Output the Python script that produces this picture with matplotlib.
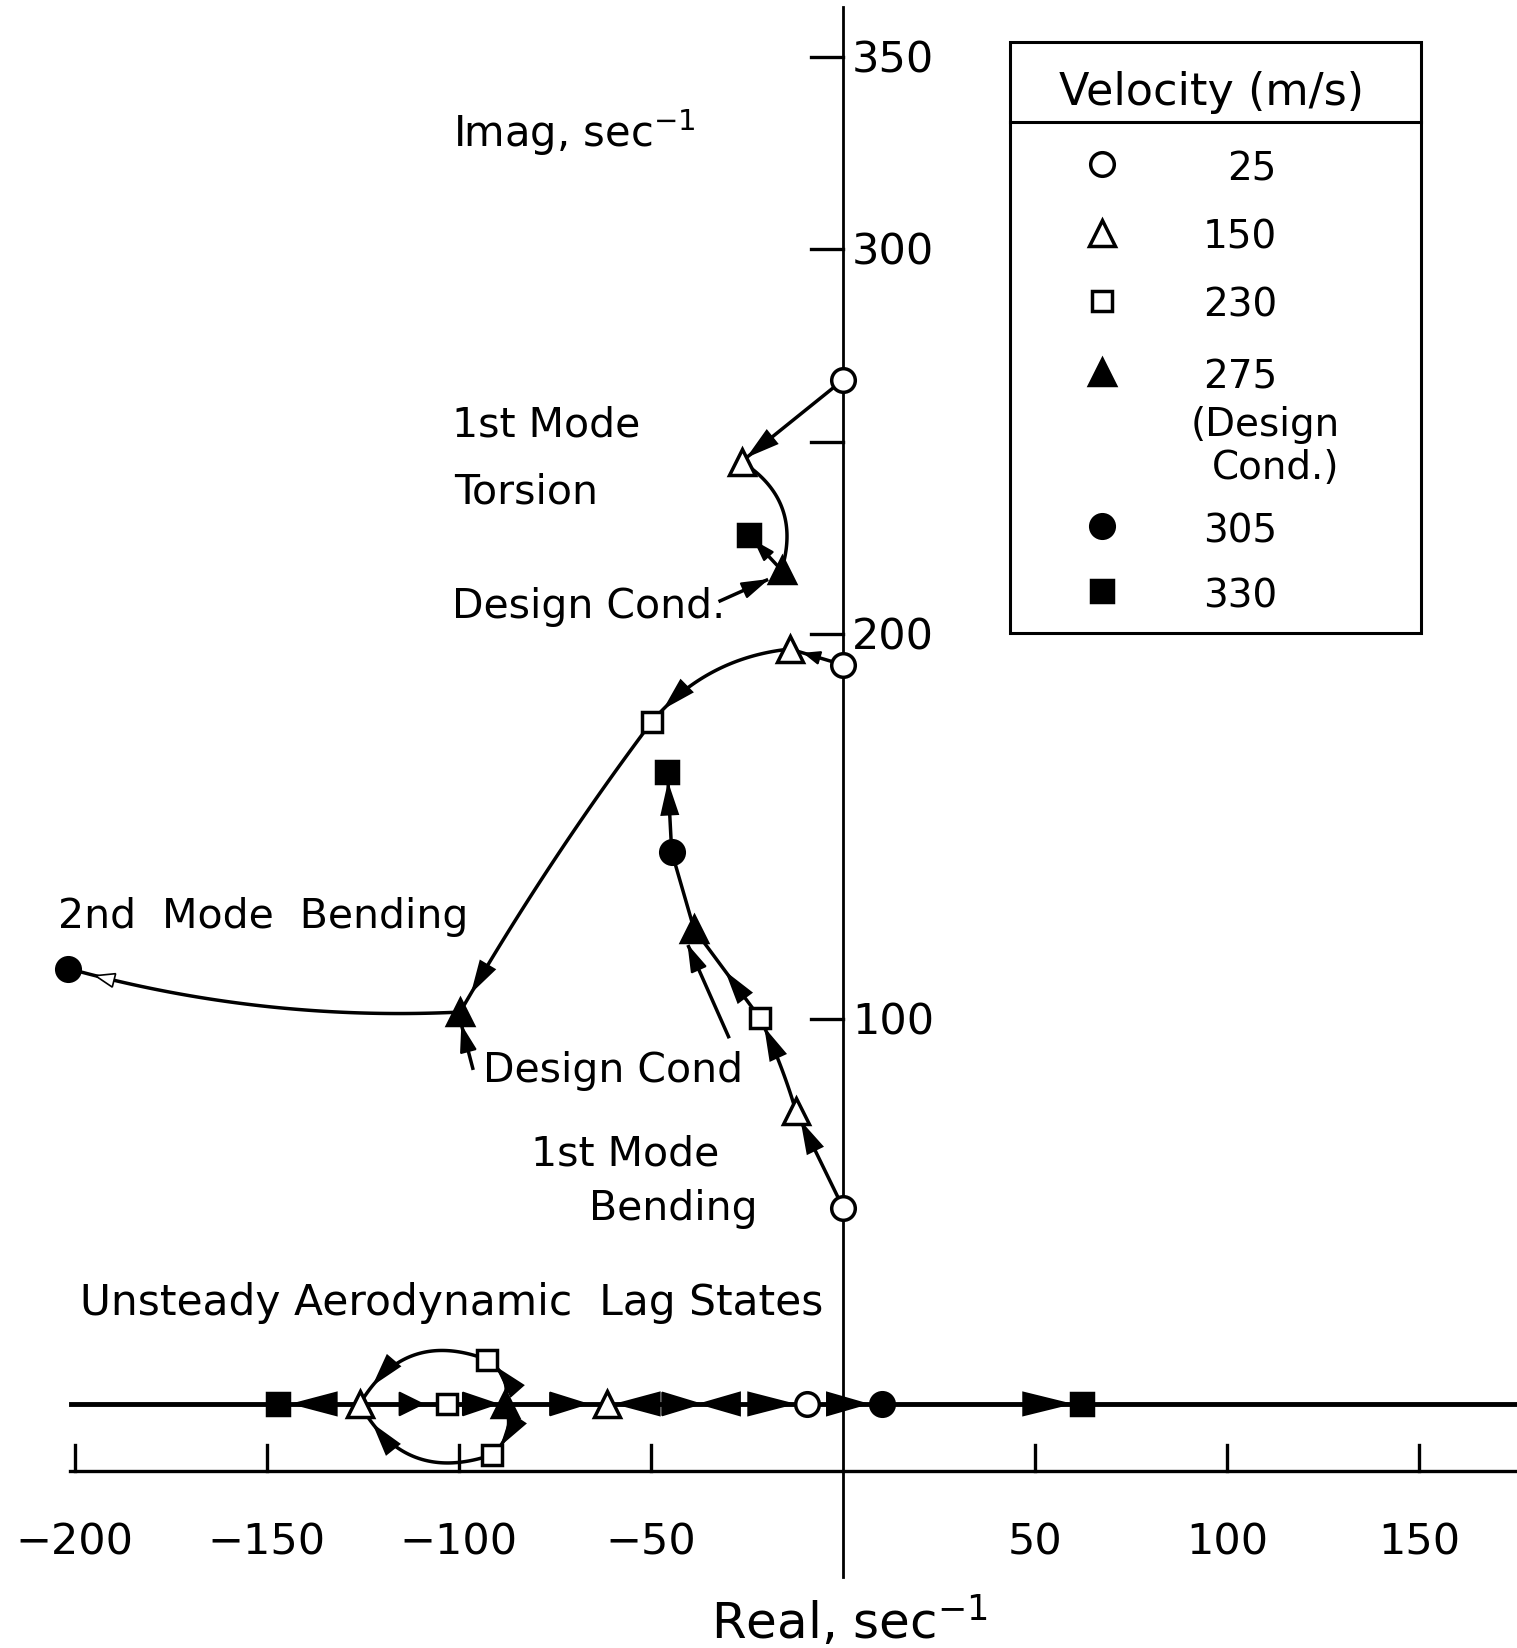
import numpy as np
import matplotlib
matplotlib.use("Agg")
import matplotlib.pyplot as plt
from matplotlib.patches import Polygon, Rectangle

# root locus points, real / imag in sec^-1, tagged with airspeed (m/s)
torsion_re = [0.0, -26.4, -16.0, -24.5]
torsion_im = [266.0, 244.8, 216.6, 225.7]
torsion_v = [25, 150, 275, 330]

bend2_re = [0.0, -13.8, -49.8, -99.7, -201.7]
bend2_im = [192.0, 196.1, 177.2, 101.8, 113.1]
bend2_v = [25, 150, 230, 275, 305]

bend1_re = [0.0, -12.3, -21.6, -38.8, -44.6, -45.7]
bend1_im = [51.0, 76.2, 100.2, 123.4, 143.4, 164.2]
bend1_v = [25, 150, 230, 275, 305, 330]

lag_re = [-147.0, -125.8, -103.2, -92.7, -91.4, -88.0, -61.5, -9.5, 10.1, 62.2]
lag_im = [0.0, 0.0, 0.0, 11.5, -13.2, 0.0, 0.0, 0.0, 0.0, 0.0]
lag_v = [330, 150, 230, 230, 230, 275, 150, 25, 305, 330]

# arrowheads sitting on the real axis (tip, tail)
lag_tip = [-143.2, -109.4, -90.1, -66.7, -58.9, -37.2, -37.2, -13.0, 6.2, 59.1]
lag_tail = [-131.8, -115.5, -99.0, -76.3, -47.7, -47.1, -26.8, -24.7, -4.2, 46.9]

# links between points: (from, to, arc bend, arrowhead position along curve)
torsion_links = [(0, 1, 0.0, 0.93), (1, 2, -0.38, None), (2, 3, 0.0, 0.8)]
bend2_links = [(0, 1, 0.0, 0.72), (1, 2, 0.2, 0.88), (2, 3, 0.03, 0.93), (3, 4, -0.08, 0.93)]
bend1_links = [(0, 1, 0.0, 0.87), (1, 2, 0.04, 0.87), (2, 3, 0.0, 0.5), (3, 4, 0.0, None), (4, 5, 0.0, 0.84)]
lag_links = [(3, 1, 0.42, 0.85), (4, 1, -0.42, 0.85), (5, 3, 0.35, 0.75), (5, 4, -0.35, 0.75)]

velocities = [25, 150, 230, 275, 305, 330]
legend_text = ["25", "150", "230", "275", "305", "330"]

xticks = [-200, -150, -100, -50, 50, 100, 150]
yticks = [350, 300, 250, 200, 100]
ylabels = [350, 300, 200, 100]

STYLE = {
    25: dict(marker="o", mfc="white", ms=17),
    150: dict(marker="^", mfc="white", ms=19),
    230: dict(marker="s", mfc="white", ms=14),
    275: dict(marker="^", mfc="black", ms=19),
    305: dict(marker="o", mfc="black", ms=17),
    330: dict(marker="s", mfc="black", ms=15.5),
}

LW = 2.5
FT = 29.5

fig = plt.figure(figsize=(15.17, 16.48), dpi=100)
ax = fig.add_axes([0, 0, 1, 1])
ax.set_xlim(-219.5, 175.5)
ax.set_ylim(-63.4, 364.7)
ax.axis("off")


def curve(p0, p1, rad, n=80):
    p0, p1 = np.asarray(p0, float), np.asarray(p1, float)
    d = p1 - p0
    c = (p0 + p1) / 2 + rad * np.array([d[1], -d[0]])
    t = np.linspace(0, 1, n)[:, None]
    pts = (1 - t) ** 2 * p0 + 2 * (1 - t) * t * c + t ** 2 * p1
    return pts, c


def head(tip, direction, length=7.8, half=2.2, fc="black"):
    tip = np.asarray(tip, float)
    u = np.asarray(direction, float)
    u = u / np.hypot(*u)
    perp = np.array([-u[1], u[0]])
    base = tip - length * u
    tri = [tip, base + half * perp, base - half * perp]
    ax.add_patch(Polygon(tri, closed=True, fc=fc, ec="black", lw=1.2, zorder=3))


def draw_links(xs, ys, links, small=None):
    small = small or {}
    for k, (i, j, rad, th) in enumerate(links):
        p0, p1 = np.array([xs[i], ys[i]]), np.array([xs[j], ys[j]])
        pts, c = curve(p0, p1, rad)
        ax.plot(pts[:, 0], pts[:, 1], color="black", lw=LW, zorder=2,
                solid_capstyle="round")
        if th is None:
            continue
        tip = (1 - th) ** 2 * p0 + 2 * (1 - th) * th * c + th ** 2 * p1
        tang = 2 * (1 - th) * (c - p0) + 2 * th * (p1 - c)
        if k in small:
            head(tip, tang, length=small[k][0], half=small[k][1], fc=small[k][2])
        else:
            head(tip, tang)


def draw_points(xs, ys, vs):
    for x, y, v in zip(xs, ys, vs):
        ax.plot(x, y, color="black", mec="black", mew=2.5, ls="none", zorder=4, **STYLE[v])


def pointer(tail, tip):
    ax.plot([tail[0], tip[0]], [tail[1], tip[1]], color="black", lw=LW, zorder=2)
    head(tip, np.subtract(tip, tail), length=6.5, half=2.0)


# axes drawn by hand
ax.plot([0, 0], [-45, 363], color="black", lw=2.0, zorder=1)
for v in yticks:
    ax.plot([-8.3, 0], [v, v], color="black", lw=2.4, zorder=1)
for v in ylabels:
    ax.text(2.3, v - 4.1, f"{v}", fontsize=31, ha="left", va="baseline")

ax.plot([-201.4, 175.5], [-17.5, -17.5], color="black", lw=2.4, zorder=1)
for v in xticks:
    ax.plot([v, v], [-17.5, -10.7], color="black", lw=2.4, zorder=1)
    ax.text(v, -39.0, f"{v}".replace("-", "\u2212"), fontsize=31,
            ha="center", va="baseline")

ax.plot([-201, 175.5], [0, 0], color="black", lw=3.5, zorder=2)

ax.text(-34.4, -61.2, r"Real, sec$^{-1}$", fontsize=36, ha="left", va="baseline")
ax.text(-101.6, 326.5, r"Imag, sec$^{-1}$", fontsize=30, ha="left", va="baseline")

# root loci
draw_links(torsion_re, torsion_im, torsion_links,
           small={2: (5.0, 1.6, "black")})
draw_links(bend2_re, bend2_im, bend2_links,
           small={0: (4.0, 1.6, "black"), 3: (5.0, 1.8, "white")})
draw_links(bend1_re, bend1_im, bend1_links)
draw_links(lag_re, lag_im, lag_links)
for tip, tail in zip(lag_tip, lag_tail):
    head((tip, 0.0), (tip - tail, 0.0), length=abs(tip - tail), half=3.0)

draw_points(torsion_re, torsion_im, torsion_v)
draw_points(bend2_re, bend2_im, bend2_v)
draw_points(bend1_re, bend1_im, bend1_v)
draw_points(lag_re, lag_im, lag_v)

# labels
ax.text(-101.8, 251.2, "1st Mode", fontsize=FT, ha="left", va="baseline")
ax.text(-101.3, 234.0, "Torsion", fontsize=FT, ha="left", va="baseline")
ax.text(-101.8, 204.1, "Design Cond.", fontsize=FT, ha="left", va="baseline")
pointer((-32.0, 208.6), (-19.9, 214.0))

ax.text(-204.3, 123.6, "2nd  Mode  Bending", fontsize=FT, ha="left", va="baseline")
ax.text(-93.8, 83.6, "Design Cond", fontsize=FT, ha="left", va="baseline")
pointer((-96.4, 87.2), (-99.2, 97.9))
pointer((-29.8, 95.4), (-40.2, 118.8))

ax.text(-81.3, 62.0, "1st Mode", fontsize=FT, ha="left", va="baseline")
ax.text(-66.1, 47.7, "Bending", fontsize=FT, ha="left", va="baseline")

ax.text(-198.7, 23.0, "Unsteady Aerodynamic  Lag States", fontsize=30.5,
        ha="left", va="baseline")

# velocity key
ax.add_patch(Rectangle((43.4, 200.3), 107.0, 153.5, fill=False, ec="black",
                       lw=2.2, zorder=5))
ax.plot([43.4, 150.4], [333.0, 333.0], color="black", lw=2.2, zorder=5)
ax.text(96.0, 337.4, "Velocity (m/s)", fontsize=32, ha="center", va="baseline")

key_y = [321.6, 303.8, 286.1, 267.6, 227.6, 210.7]
for v, txt, y in zip(velocities, legend_text, key_y):
    ax.plot(67.4, y + 0.5, color="black", mec="black", mew=2.5, ls="none",
            zorder=6, **STYLE[v])
    ax.text(113.0, y - 3.7, txt, fontsize=28, ha="right", va="baseline")
ax.text(90.4, 255.1 - 3.7, "(Design", fontsize=28, ha="left", va="baseline")
ax.text(96.1, 243.9 - 3.7, "Cond.)", fontsize=28, ha="left", va="baseline")

fig.savefig("out.png", dpi=100, facecolor="white")
